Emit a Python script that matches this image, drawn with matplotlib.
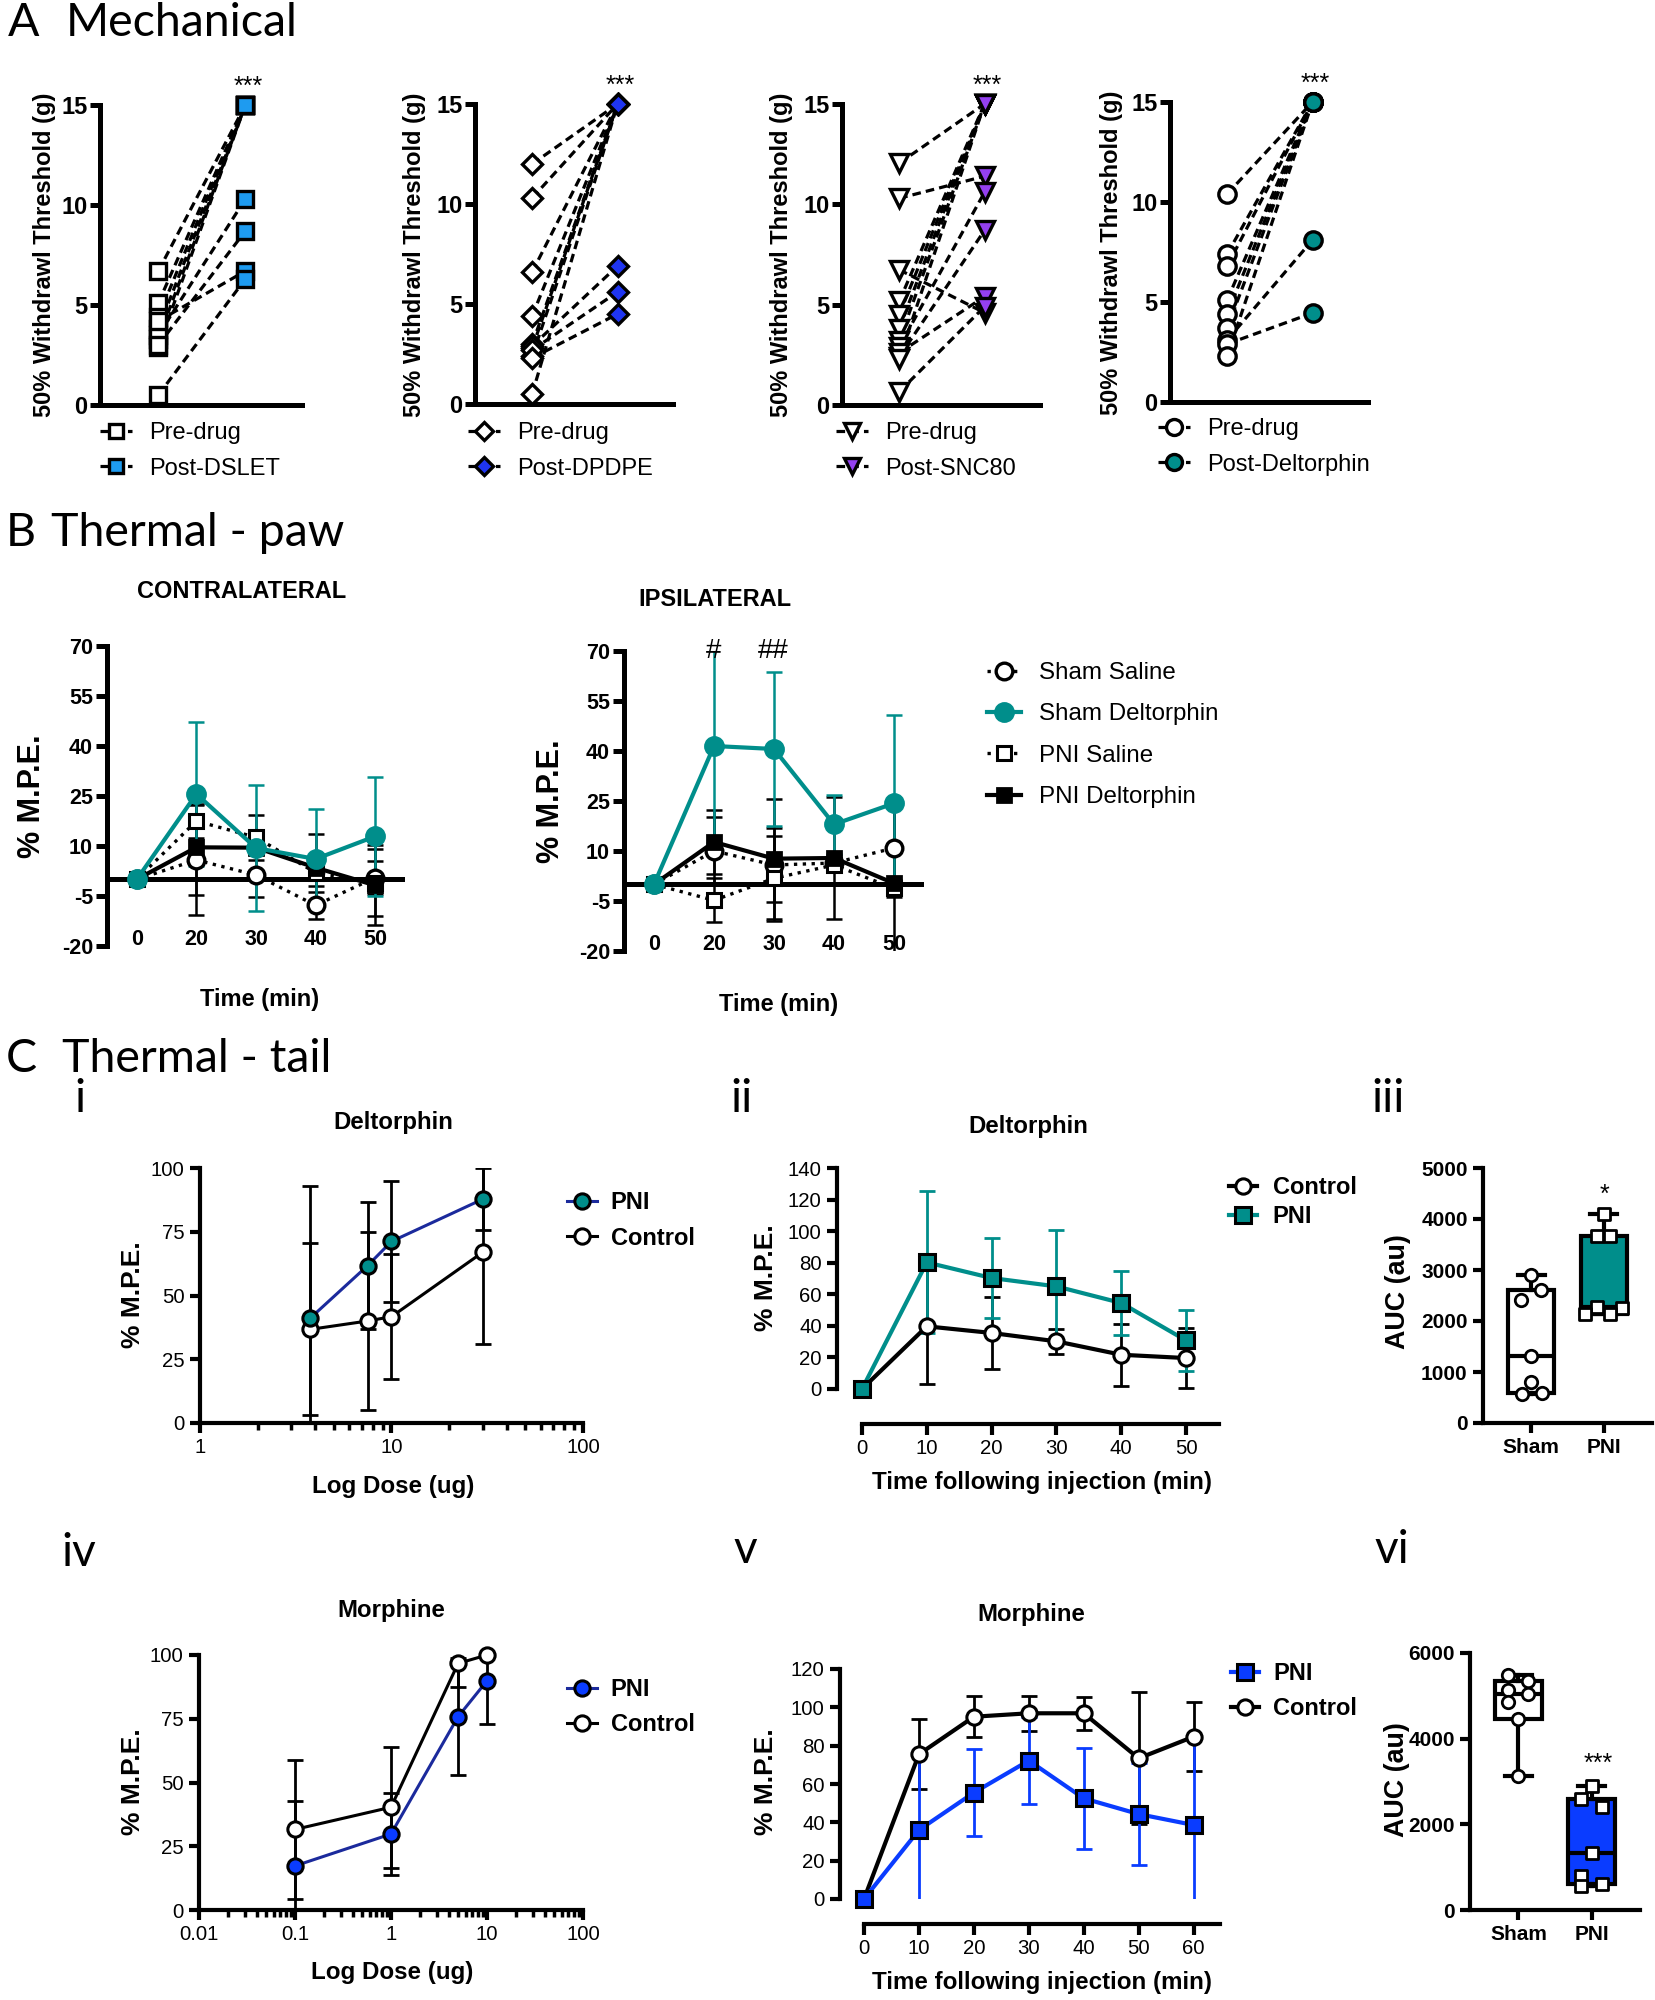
import matplotlib
matplotlib.use('Agg')
import matplotlib.pyplot as plt
from matplotlib.lines import Line2D
from matplotlib.ticker import NullFormatter
import numpy as np

W, H = 1656, 2000
plt.rcParams['font.family'] = ['Liberation Sans', 'DejaVu Sans']
plt.rcParams['axes.unicode_minus'] = False

TEAL = '#008e8b'
DSLET_C = '#1e9bf0'
DPDPE_C = '#1f35f2'
SNC_C = '#9440f0'
NAVY = '#1b2a9c'
BLUE = '#0a3cff'

# ---------------- data ----------------
# A: Mechanical, 50% withdrawal threshold (g), pre vs post per animal
dslet_pre = [6.7, 5.1, 4.4, 3.8, 3.3, 2.9, 3.5, 3.0, 4.2, 0.5]
dslet_post = [15, 15, 15, 15, 15, 15, 10.3, 8.7, 6.7, 6.3]
dpdpe_pre = [12.0, 10.3, 6.6, 4.4, 3.0, 2.8, 2.4, 0.5, 2.9, 2.7, 2.3]
dpdpe_post = [15, 15, 15, 15, 15, 15, 15, 15, 6.9, 5.6, 4.5]
snc_pre = [12.05, 10.3, 6.74, 5.16, 4.5, 3.8, 3.2, 2.9, 2.4, 2.6, 0.66, 2.3]
snc_post = [15, 11.4, 4.6, 15, 15, 15, 15, 10.6, 8.7, 5.4, 4.9, 15]
delt_pre = [10.4, 7.4, 6.8, 5.1, 4.4, 3.7, 3.1, 2.9, 2.3]
delt_post = [15, 15, 15, 15, 15, 15, 8.1, 4.45, 15]
A_yticks = [0, 5, 10, 15]
A_labels = ['Post-DSLET', 'Post-DPDPE', 'Post-SNC80', 'Post-Deltorphin']

# B: Thermal paw, % M.P.E.
paw_times = ['0', '20', '30', '40', '50']
contra_sham_sal = [0, 5.8, 1.3, -7.8, 0.5]
contra_sham_sal_err = [0, 16.5, 6.6, 4.0, 5.0]
contra_sham_del = [0, 25.6, 9.4, 6.1, 12.9]
contra_sham_del_err = [0, 21.5, 19.0, 15.0, 17.8]
contra_pni_sal = [0, 17.5, 12.6, 2.0, -1.0]
contra_pni_sal_err = [0, 5.0, 6.7, 4.0, 10.0]
contra_pni_del = [0, 9.6, 9.5, 3.5, -1.8]
contra_pni_del_err = [0, 14.4, 2.0, 10.0, 12.0]

ipsi_sham_sal = [0, 10.0, 5.8, 6.4, 10.9]
ipsi_sham_sal_err = [0, 10.3, 11.0, 2.5, 12.4]
ipsi_sham_del = [0, 41.5, 40.6, 18.0, 24.3]
ipsi_sham_del_err = [0, 29.0, 23.0, 8.8, 26.5]
ipsi_pni_sal = [0, -4.8, 1.8, 5.8, -1.2]
ipsi_pni_sal_err = [0, 6.6, 12.7, 2.0, 2.6]
ipsi_pni_del = [0, 12.7, 7.7, 7.9, 0.3]
ipsi_pni_del_err = [0, 9.7, 18.0, 18.4, 23.0]
B_yticks = [-20, -5, 10, 25, 40, 55, 70]

# C i: deltorphin dose response
delt_dose = [3.75, 7.5, 10, 30]
delt_pni = [41.0, 61.7, 71.2, 87.8]
delt_pni_err = [51.8, 24.8, 23.6, 12.2]
delt_ctrl = [36.7, 40.0, 41.7, 67.0]
delt_ctrl_err = [33.7, 34.8, 24.6, 36.2]
# C ii: deltorphin time course
tc_time = [0, 10, 20, 30, 40, 50]
tc_delt_pni = [0, 80.2, 70.3, 65.0, 54.5, 30.8]
tc_delt_pni_err = [0, 45.0, 25.3, 35.5, 20.0, 19.5]
tc_delt_ctrl = [0, 39.7, 35.5, 30.2, 21.7, 19.6]
tc_delt_ctrl_err = [0, 36.3, 22.8, 8.0, 19.7, 19.0]
# C iii: AUC deltorphin
auc_delt_sham = [2903, 2608, 2412, 1311, 806, 577, 590]
auc_delt_sham_jit = [0, 0.137, -0.137, 0, 0, -0.128, 0.146]
auc_delt_pni = [4102, 3657, 3670, 2280, 2248, 2136, 2136]
auc_delt_pni_jit = [0, -0.09, 0.087, -0.09, 0.25, -0.265, 0.078]
# C iv: morphine dose response
morph_dose = [0.1, 1, 5, 10]
morph_pni = [17.3, 29.8, 75.8, 89.9]
morph_pni_err = [25.6, 16.2, 23.0, 17.0]
morph_ctrl = [31.6, 40.3, 96.7, 100.0]
morph_ctrl_err = [27.2, 23.8, 9.1, 0.0]
# C v: morphine time course
tc_morph_time = [0, 10, 20, 30, 40, 50, 60]
tc_morph_pni = [0, 36.0, 55.5, 72.2, 52.5, 44.3, 38.6]
tc_morph_pni_err = [0, 40.0, 22.6, 22.6, 26.5, 26.8, 46.0]
tc_morph_ctrl = [0, 75.5, 95.1, 96.9, 96.9, 73.4, 84.7]
tc_morph_ctrl_err = [0, 18.2, 10.8, 9.2, 8.7, 34.4, 18.1]
# C vi: AUC morphine
auc_morph_sham = [5495, 5339, 5129, 5050, 4848, 4458, 3118]
auc_morph_sham_jit = [-0.137, 0.137, -0.137, 0.137, -0.137, 0, 0]
auc_morph_pni = [2884, 2588, 2400, 1325, 795, 561, 608]
auc_morph_pni_jit = [0, -0.146, 0.146, 0, -0.146, -0.146, 0.146]

# ---------------- figure ----------------
fig = plt.figure(figsize=(W / 100, H / 100), dpi=100)


def add_ax(x0, x1, ytop, ybot):
    return fig.add_axes([x0 / W, 1 - ybot / H, (x1 - x0) / W, (ybot - ytop) / H])


def ftext(x, y, s, **kw):
    fig.text(x / W, 1 - y / H, s, **kw)


def style(ax, lw=3.0, tsize=15, tweight='bold'):
    for sp in ['top', 'right']:
        ax.spines[sp].set_visible(False)
    for sp in ['left', 'bottom']:
        ax.spines[sp].set_linewidth(lw)
    ax.tick_params(width=lw, labelsize=tsize)
    for lb in ax.get_xticklabels() + ax.get_yticklabels():
        lb.set_fontweight(tweight)


def legend(ax, handles, labels, x, y, size, weight, hl, htp, lsp):
    ax.legend(handles, labels, loc='upper left', bbox_to_anchor=(x / W, 1 - y / H),
              bbox_transform=fig.transFigure, frameon=False, borderpad=0,
              borderaxespad=0, handlelength=hl, handletextpad=htp, labelspacing=lsp,
              prop={'size': size, 'weight': weight, 'family': 'Liberation Sans'})


HEAD = dict(family='Lato', fontsize=33.5, va='baseline', ha='left')
ftext(8, 36, 'A', **HEAD)
ftext(66, 36, 'Mechanical', **HEAD)
ftext(6, 546, 'B', **HEAD)
ftext(51, 546, 'Thermal - paw', **HEAD)
ftext(6, 1072, 'C', **HEAD)
ftext(62, 1072, 'Thermal - tail', **HEAD)
SUB = dict(family='Lato', fontsize=33, va='baseline', ha='center')
for sx, sy, st in [(80, 1112, 'i'), (742, 1112, 'ii'), (1388, 1112, 'iii'),
                   (79, 1566, 'iv'), (745, 1563, 'v'), (1392, 1563, 'vi')]:
    ftext(sx, sy, st, **SUB)

# ---------------- A ----------------
A_specs = [
    (100, 302, 105, 405, dslet_pre, dslet_post, 's', 11.5, DSLET_C, 45, 255, 100, 422),
    (475, 673, 104, 404, dpdpe_pre, dpdpe_post, 'D', 10, DPDPE_C, 415, 255, 468, 422),
    (842, 1040, 104, 405, snc_pre, snc_post, 'v', 13, SNC_C, 782, 255, 836, 422),
    (1170, 1368, 102, 402, delt_pre, delt_post, 'o', 12.5, TEAL, 1112, 253, 1158, 418),
]
for i, (x0, x1, yt, yb, pre, post, mk, ms, col, ylx, yly, lgx, lgy) in enumerate(A_specs):
    ax = add_ax(x0, x1, yt, yb)
    for p, q in zip(pre, post):
        ax.plot([1, 2], [p, q], color='k', lw=2.3, ls=(0, (2.7, 1.6)), zorder=2)
    ax.plot(np.ones(len(pre)), pre, ls='none', marker=mk, ms=ms, mfc='white',
            mec='k', mew=2.4, zorder=3, clip_on=False)
    ax.plot(np.full(len(post), 2), post, ls='none', marker=mk, ms=ms, mfc=col,
            mec='k', mew=2.4, zorder=4, clip_on=False)
    ax.set_xlim(0.33, 2.65)
    ax.set_ylim(0, 15)
    ax.set_yticks(A_yticks)
    ax.set_xticks([])
    style(ax, lw=3.6, tsize=17)
    ax.tick_params(axis='y', length=7, pad=2)
    ax.annotate('***', xy=(2, 15), xytext=(2, 8), textcoords='offset points',
                ha='center', va='baseline', fontsize=18, annotation_clip=False)
    ftext(ylx, yly, '50% Withdrawl Threshold (g)', rotation=90, ha='center',
          va='center', fontsize=17, fontweight='bold')
    hpre = Line2D([], [], color='k', lw=2.3, ls=(0, (2.7, 1.6)), marker=mk, ms=ms - 1,
                  mfc='white', mec='k', mew=2.4)
    hpost = Line2D([], [], color='k', lw=2.3, ls=(0, (2.7, 1.6)), marker=mk, ms=ms - 1,
                   mfc=col, mec='k', mew=2.4)
    legend(ax, [hpre, hpost], ['Pre-drug', A_labels[i]], lgx, lgy, 17, 'normal',
           1.35, 0.75, 0.58)

# ---------------- B ----------------
B_specs = [
    (107, 405, 646, 946, 'CONTRALATERAL', (242, 591), (32, 796), (260, 999),
     [(contra_sham_sal, contra_sham_sal_err), (contra_pni_sal, contra_pni_sal_err),
      (contra_pni_del, contra_pni_del_err), (contra_sham_del, contra_sham_del_err)]),
    (624, 924, 651, 951, 'IPSILATERAL', (715, 600), (551, 801), (779, 1004),
     [(ipsi_sham_sal, ipsi_sham_sal_err), (ipsi_pni_sal, ipsi_pni_sal_err),
      (ipsi_pni_del, ipsi_pni_del_err), (ipsi_sham_del, ipsi_sham_del_err)]),
]
B_styles = [
    dict(color='k', ls=':', lw=2.4, marker='o', ms=12, mfc='white', mec='k', mew=2.4),
    dict(color='k', ls=':', lw=2.4, marker='s', ms=10, mfc='white', mec='k', mew=2.2),
    dict(color='k', ls='-', lw=3.0, marker='s', ms=10, mfc='k', mec='k', mew=2.0),
    dict(color=TEAL, ls='-', lw=3.0, marker='o', ms=13, mfc=TEAL, mec=TEAL, mew=2.0),
]
xpos = np.arange(len(paw_times))
for x0, x1, yt, yb, title, tpos, ypos, xlpos, series in B_specs:
    ax = add_ax(x0, x1, yt, yb)
    ax.axhline(0, color='k', lw=3.6, zorder=1.5)
    for (vals, errs), st in zip(series, B_styles):
        ax.errorbar(xpos, vals, yerr=errs, fmt='none', ecolor=st['color'],
                    elinewidth=1.8, capsize=6, capthick=1.8, zorder=2)
        ax.plot(xpos, vals, zorder=3, clip_on=False, **st)
    ax.set_xlim(-0.5, 4.5)
    ax.set_ylim(-20, 70)
    ax.set_yticks(B_yticks)
    ax.set_xticks(xpos)
    ax.set_xticklabels(paw_times)
    style(ax, lw=3.6, tsize=15.5)
    ax.spines['bottom'].set_visible(False)
    ax.tick_params(axis='x', length=0, pad=-12)
    ax.tick_params(axis='y', length=8, pad=2)
    ftext(tpos[0], tpos[1], title, ha='center', va='center', fontsize=17, fontweight='bold')
    ftext(ypos[0], ypos[1], '% M.P.E.', rotation=90, ha='center', va='center',
          fontsize=22, fontweight='bold')
    ftext(xlpos[0], xlpos[1], 'Time (min)', ha='center', va='center', fontsize=17,
          fontweight='bold')
    ipsi_ax = ax

ftext(714, 658, '#', ha='center', va='baseline', fontsize=20)
ftext(773, 658, '##', ha='center', va='baseline', fontsize=20)
hB = [Line2D([], [], **B_styles[0]), Line2D([], [], **B_styles[3]),
      Line2D([], [], **B_styles[1]), Line2D([], [], **B_styles[2])]
legend(ipsi_ax, hB, ['Sham Saline', 'Sham Deltorphin', 'PNI Saline', 'PNI Deltorphin'],
       987, 662, 17.4, 'normal', 1.4, 0.75, 0.8)


# ---------------- C ----------------
def c_labels(title, tpos, ypos, xlabel=None, xlpos=None, ysize=19):
    ftext(tpos[0], tpos[1], title, ha='center', va='center', fontsize=17.3, fontweight='bold')
    ftext(ypos[0], ypos[1], '% M.P.E.', rotation=90, ha='center', va='center',
          fontsize=ysize, fontweight='bold')
    if xlabel:
        ftext(xlpos[0], xlpos[1], xlabel, ha='center', va='center', fontsize=17.4,
              fontweight='bold')


EB = dict(fmt='none', elinewidth=2.0, capsize=6, capthick=2.0, zorder=2)


def dose_panel(box, dose, pni, pni_err, ctrl, ctrl_err, pni_fc, xlim, xticks, xtl):
    ax = add_ax(*box)
    ax.errorbar(dose, pni, yerr=pni_err, ecolor='k', **EB)
    ax.errorbar(dose, ctrl, yerr=ctrl_err, ecolor='k', **EB)
    ax.plot(dose, ctrl, color='k', lw=2.2, marker='o', ms=11, mfc='white', mec='k',
            mew=2.2, zorder=3, clip_on=False)
    ax.plot(dose, pni, color=NAVY, lw=2.2, marker='o', ms=11, mfc=pni_fc, mec='k',
            mew=2.2, zorder=4, clip_on=False)
    ax.set_xscale('log')
    ax.set_xlim(*xlim)
    ax.set_ylim(0, 100)
    ax.set_yticks([0, 25, 50, 75, 100])
    ax.set_xticks(xticks)
    ax.set_xticklabels(xtl)
    ax.xaxis.set_minor_formatter(NullFormatter())
    style(ax, lw=3.0, tsize=14.7, tweight='normal')
    ax.tick_params(axis='both', which='major', length=7, pad=4)
    ax.tick_params(axis='x', which='minor', length=5, width=2.5)
    return ax


# C i
ax = dose_panel((200, 583, 1168, 1423), delt_dose, delt_pni, delt_pni_err, delt_ctrl,
                delt_ctrl_err, TEAL, (1, 100), [1, 10, 100], ['1', '10', '100'])
c_labels('Deltorphin', (393, 1123), (133, 1295), 'Log Dose (ug)', (393, 1486))
hP = Line2D([], [], color=NAVY, lw=2.2, marker='o', ms=11, mfc=TEAL, mec='k', mew=2.2)
hC = Line2D([], [], color='k', lw=2.2, marker='o', ms=11, mfc='white', mec='k', mew=2.2)
legend(ax, [hP, hC], ['PNI', 'Control'], 567, 1191, 17, 'bold', 1.25, 0.6, 0.54)

# C iv
ax = dose_panel((199, 583, 1655, 1910), morph_dose, morph_pni, morph_pni_err, morph_ctrl,
                morph_ctrl_err, BLUE, (0.01, 100), [0.01, 0.1, 1, 10, 100],
                ['0.01', '0.1', '1', '10', '100'])
c_labels('Morphine', (391, 1611), (133, 1782), 'Log Dose (ug)', (392, 1972))
hP = Line2D([], [], color=NAVY, lw=2.2, marker='o', ms=11, mfc=BLUE, mec='k', mew=2.2)
legend(ax, [hP, hC], ['PNI', 'Control'], 567, 1678, 17, 'bold', 1.25, 0.6, 0.52)


def time_panel(box, t, pni, pni_err, ctrl, ctrl_err, col, xlim, ymax, ystep, off_pt):
    ax = add_ax(*box)
    ax.errorbar(t, ctrl, yerr=ctrl_err, ecolor='k', **EB)
    ax.errorbar(t, pni, yerr=pni_err, ecolor=col, **EB)
    ax.plot(t, ctrl, color='k', lw=3.0, marker='o', ms=11, mfc='white', mec='k',
            mew=2.2, zorder=3, clip_on=False)
    ax.plot(t, pni, color=col, lw=3.0, marker='s', ms=11, mfc=col, mec='k', mew=2.2,
            zorder=4, clip_on=False)
    ax.set_xlim(*xlim)
    ax.set_ylim(0, ymax)
    ax.set_yticks(np.arange(0, ymax + 1, ystep))
    ax.set_xticks(t)
    style(ax, lw=3.0, tsize=14.7, tweight='normal')
    ax.spines['bottom'].set_position(('outward', off_pt))
    ax.spines['bottom'].set_bounds(0, xlim[1])
    ax.tick_params(axis='both', length=7, pad=4)
    ax.tick_params(axis='x', length=8, pad=3)
    return ax


# C ii
ax = time_panel((837, 1219, 1168, 1389), tc_time, tc_delt_pni, tc_delt_pni_err,
                tc_delt_ctrl, tc_delt_ctrl_err, TEAL, (-3.86, 55.1), 140, 20, 25.2)
c_labels('Deltorphin', (1028, 1127), (766, 1278), 'Time following injection (min)',
         (1042, 1483))
hC2 = Line2D([], [], color='k', lw=3, marker='o', ms=11, mfc='white', mec='k', mew=2.2)
hP2 = Line2D([], [], color=TEAL, lw=3, marker='s', ms=11, mfc=TEAL, mec='k', mew=2.2)
legend(ax, [hC2, hP2], ['Control', 'PNI'], 1229, 1176, 17, 'bold', 1.2, 0.65, 0.25)

# C v
ax = time_panel((840, 1220, 1669, 1899), tc_morph_time, tc_morph_pni, tc_morph_pni_err,
                tc_morph_ctrl, tc_morph_ctrl_err, BLUE, (-4.37, 64.8), 120, 20, 18.0)
c_labels('Morphine', (1031, 1614), (766, 1782), 'Time following injection (min)',
         (1042, 1983))
hP5 = Line2D([], [], color=BLUE, lw=3, marker='s', ms=11, mfc=BLUE, mec='k', mew=2.2)
legend(ax, [hP5, hC2], ['PNI', 'Control'], 1231, 1662, 17, 'bold', 1.2, 0.6, 0.52)


def box_stats(vals, label):
    q1, med, q3 = np.percentile(vals, [25, 50, 75], method='weibull')
    return dict(label=label, med=med, q1=q1, q3=q3, whislo=min(vals), whishi=max(vals))


def auc_panel(box, sham, sham_jit, pni, pni_jit, pni_col, ymax, ystep, star, starpos, ypos):
    ax = add_ax(*box)
    stats = [box_stats(sham, 'Sham'), box_stats(pni, 'PNI')]
    lp = dict(color='k', linewidth=3.0)
    bp = ax.bxp(stats, positions=[0, 1], widths=0.64, patch_artist=True,
                showfliers=False, capwidths=0.37,
                boxprops=dict(edgecolor='k', linewidth=3.0),
                medianprops=lp, whiskerprops=lp, capprops=lp)
    bp['boxes'][0].set_facecolor('white')
    bp['boxes'][1].set_facecolor(pni_col)
    ax.scatter(np.array(sham_jit), sham, s=80, marker='o', facecolor='white',
               edgecolor='k', linewidth=2.0, zorder=5, clip_on=False)
    ax.scatter(1 + np.array(pni_jit), pni, s=80, marker='s', facecolor='white',
               edgecolor='k', linewidth=2.0, zorder=5, clip_on=False)
    ax.set_xlim(-0.66, 1.66)
    ax.set_ylim(0, ymax)
    ax.set_yticks(np.arange(0, ymax + 1, ystep))
    ax.set_xticks([0, 1])
    ax.set_xticklabels(['Sham', 'PNI'])
    style(ax, lw=3.0, tsize=15, tweight='bold')
    ax.tick_params(axis='both', length=7, pad=4)
    ftext(starpos[0], starpos[1], star, ha='center', va='baseline', fontsize=18)
    ftext(ypos[0], ypos[1], 'AUC (au)', rotation=90, ha='center', va='center',
          fontsize=19.4, fontweight='bold')
    return ax


auc_panel((1483, 1652, 1168, 1423), auc_delt_sham, auc_delt_sham_jit, auc_delt_pni,
          auc_delt_pni_jit, TEAL, 5000, 1000, '*', (1604, 1202), (1398, 1292))
auc_panel((1470, 1640, 1653, 1910), auc_morph_sham, auc_morph_sham_jit, auc_morph_pni,
          auc_morph_pni_jit, BLUE, 6000, 2000, '***', (1598, 1771), (1397, 1780))

fig.savefig('out.png', dpi=100)
